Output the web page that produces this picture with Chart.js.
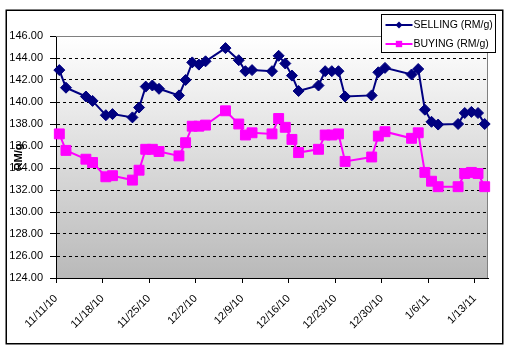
<!DOCTYPE html>
<html>
<head>
<meta charset="utf-8">
<script src="https://cdn.jsdelivr.net/npm/chart.js@4.4.1/dist/chart.umd.min.js"></script>
<style>
html,body{margin:0;padding:0;background:#fff;}
#wrap{width:509px;height:354px;position:relative;}
</style>
</head>
<body>
<div id="wrap"><canvas id="c" width="509" height="354"></canvas></div>
<script>
// ---- data ----
const dates = ["11/11/10","11/12/10","11/15/10","11/16/10","11/18/10","11/19/10","11/22/10","11/23/10","11/24/10","11/25/10","11/26/10","11/29/10","11/30/10","12/1/10","12/2/10","12/3/10","12/6/10","12/8/10","12/9/10","12/10/10","12/13/10","12/14/10","12/15/10","12/16/10","12/17/10","12/20/10","12/21/10","12/22/10","12/23/10","12/24/10","12/28/10","12/29/10","12/30/10","1/3/11","1/4/11","1/5/11","1/6/11","1/7/11","1/10/11","1/11/11","1/12/11","1/13/11","1/14/11"];
const selling = [142.9,141.3,140.5,140.1,138.8,138.9,138.6,139.5,141.4,141.5,141.2,140.6,142.0,143.6,143.4,143.7,144.9,143.8,142.8,142.9,142.8,144.2,143.5,142.4,141.0,141.5,142.8,142.8,142.8,140.5,140.6,142.7,143.1,142.5,143.0,139.3,138.2,137.95,138.0,139.0,139.1,139.0,138.0];
const buying = [137.1,135.6,134.8,134.5,133.2,133.3,132.9,133.8,135.7,135.7,135.5,135.1,136.3,137.8,137.8,137.9,139.2,138.0,137.0,137.2,137.1,138.5,137.7,136.6,135.4,135.7,137.0,137.0,137.1,134.6,135.0,136.9,137.3,136.7,137.2,133.6,132.8,132.3,132.3,133.5,133.6,133.5,132.3];
const xTickLabels = ["11/11/10","11/18/10","11/25/10","12/2/10","12/9/10","12/16/10","12/23/10","12/30/10","1/6/11","1/13/11"];
const axisStart = "11/11/10";
const axisEnd = "1/15/11";
const yMin = 124, yMax = 146, yStep = 2;
const seriesNames = ["SELLING (RM/g)", "BUYING (RM/g)"];
const yTitle = "RM/g";

// ---- helpers ----
function dayOf(s){
  const [m,d,y] = s.split('/').map(Number);
  const [m0,d0,y0] = axisStart.split('/').map(Number);
  return Math.round((Date.UTC(2000+y,m-1,d) - Date.UTC(2000+y0,m0-1,d0))/86400000);
}
const labelByDay = {};
xTickLabels.forEach(l => labelByDay[dayOf(l)] = l);

const NAVY = '#000080', MAG = '#FF00FF';
const FONT = "'Liberation Sans', Arial, sans-serif";
Chart.defaults.font.family = FONT;
Chart.defaults.font.size = 11;
Chart.defaults.color = '#000';

const decor = {
  id: 'decor',
  beforeDraw(chart){
    const {ctx, chartArea:a} = chart;
    ctx.save();
    ctx.fillStyle = '#fff';
    ctx.fillRect(0,0,chart.width,chart.height);
    const g = ctx.createLinearGradient(0,a.top,0,a.bottom);
    g.addColorStop(0,'#ffffff');
    g.addColorStop(1,'#b9b9b9');
    ctx.fillStyle = g;
    ctx.fillRect(a.left,a.top,a.right-a.left,a.bottom-a.top);
    ctx.restore();
  },
  beforeDatasetsDraw(chart){
    const {ctx, chartArea:a} = chart;
    ctx.save();
    ctx.strokeStyle = '#808080';
    ctx.lineWidth = 1;
    ctx.beginPath();
    ctx.moveTo(a.left, a.top+0.5);
    ctx.lineTo(a.right-0.5, a.top+0.5);
    ctx.lineTo(a.right-0.5, a.bottom);
    ctx.stroke();
    ctx.restore();
  },
  afterDraw(chart){
    const {ctx, chartArea:a} = chart;
    ctx.save();
    // outer frame
    ctx.strokeStyle = '#000';
    ctx.lineWidth = 1.5;
    ctx.strokeRect(6.25, 10.25, 496.5, 333.5);
    // y title
    ctx.translate(19, (a.top+a.bottom)/2);
    ctx.rotate(-Math.PI/2);
    ctx.font = "bold 11px " + FONT;
    ctx.textAlign = 'center';
    ctx.textBaseline = 'middle';
    ctx.fillStyle = '#000';
    ctx.fillText(yTitle, 0, 0);
    ctx.restore();
    // legend
    ctx.save();
    const bx = 381.5, by = 14.5, bw = 114, bh = 38;
    ctx.fillStyle = '#fff';
    ctx.fillRect(bx,by,bw,bh);
    ctx.strokeStyle = '#000';
    ctx.lineWidth = 1;
    ctx.strokeRect(bx,by,bw,bh);
    chart.data.datasets.forEach((ds,i) => {
      const y = by + 10.5 + i*19;
      ctx.strokeStyle = ds.borderColor;
      ctx.lineWidth = 2;
      ctx.beginPath();
      ctx.moveTo(bx+4, y);
      ctx.lineTo(bx+31, y);
      ctx.stroke();
      ctx.fillStyle = ds.borderColor;
      Chart.helpers.drawPoint(ctx, {pointStyle: ds.pointStyle, radius: i===0?3.5:4.5, borderWidth:0, rotation:0}, bx+17.5, y);
      ctx.fillStyle = '#000';
      ctx.font = "10.5px " + FONT;
      ctx.textAlign = 'left';
      ctx.textBaseline = 'middle';
      ctx.fillText(ds.label, bx+32, y+0.5);
    });
    ctx.restore();
  }
};

const mk = (arr) => arr.map((v,i) => ({x: dayOf(dates[i]) + 0.5, y: v}));

new Chart(document.getElementById('c'), {
  type: 'line',
  data: {
    datasets: [
      {label: seriesNames[0], data: mk(selling), borderColor: NAVY, backgroundColor: NAVY, borderWidth: 2, clip: false,
       pointStyle: 'rectRot', pointRadius: 5.5, pointBorderWidth: 1, pointBackgroundColor: NAVY, pointBorderColor: NAVY, tension: 0},
      {label: seriesNames[1], data: mk(buying), borderColor: MAG, backgroundColor: MAG, borderWidth: 2, clip: false,
       pointStyle: 'rect', pointRadius: 7, pointBorderWidth: 1, pointBackgroundColor: MAG, pointBorderColor: MAG, tension: 0}
    ]
  },
  options: {
    responsive: false,
    animation: false,
    events: [],
    layout: {padding: {top: 36, right: 21, left: 0, bottom: 0}},
    plugins: {legend: {display: false}, tooltip: {enabled: false}},
    scales: {
      x: {
        type: 'linear',
        min: 0,
        max: dayOf(axisEnd),
        afterBuildTicks(s){ s.ticks = xTickLabels.map(l => ({value: dayOf(l)})); },
        afterFit(s){ s.height = 76; },
        ticks: {
          autoSkip: false,
          minRotation: 45, maxRotation: 45,
          padding: 9,
          font: {size: 11},
          callback: (v) => labelByDay[v] || ''
        },
        grid: {drawOnChartArea: false, tickLength: 5, tickColor: '#000', tickWidth: 1},
        border: {color: '#000', width: 1}
      },
      y: {
        min: yMin, max: yMax,
        afterFit(s){ s.width = 56; },
        ticks: {stepSize: yStep, padding: 7, font: {size: 11}, callback: (v) => v.toFixed(2)},
        grid: {
          color: (c) => (c.tick && c.tick.value > yMin && c.tick.value < yMax) ? '#000' : 'rgba(0,0,0,0)',
          tickColor: '#000', tickLength: 6, lineWidth: 1
        },
        border: {color: '#000', width: 1, dash: [3,3]}
      }
    }
  },
  plugins: [decor]
});
</script>
</body>
</html>
